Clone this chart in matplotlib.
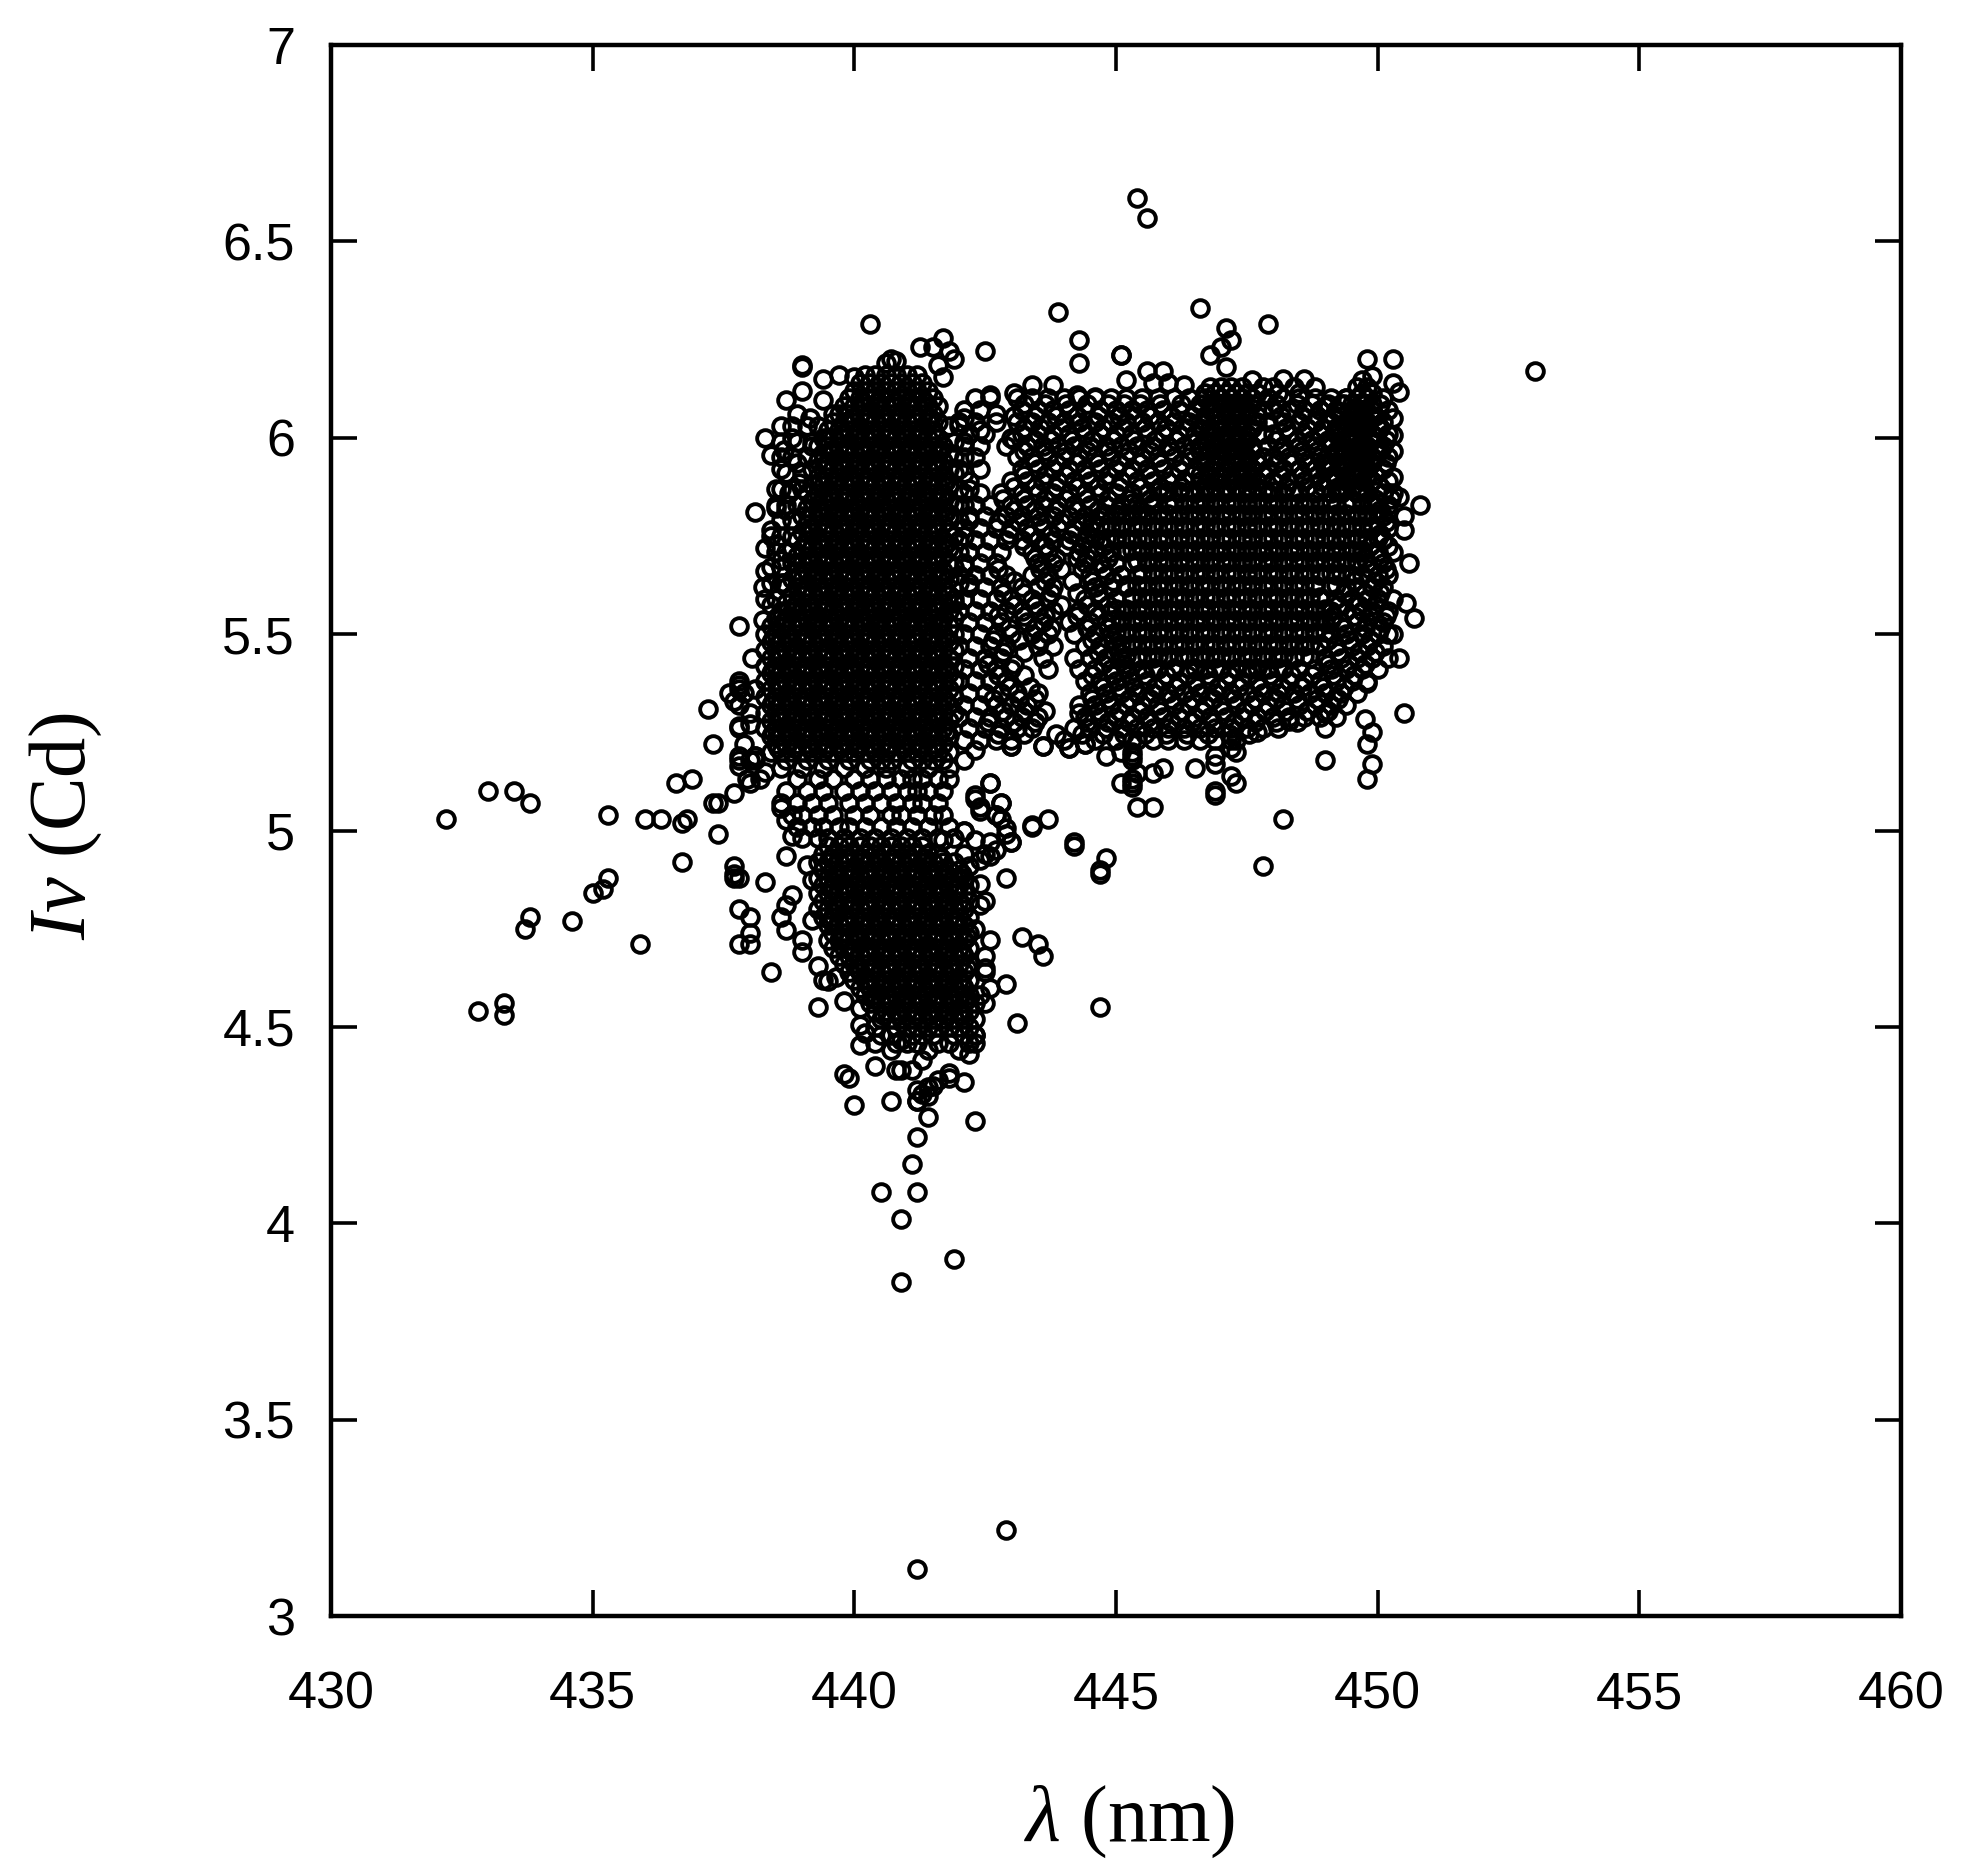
import matplotlib
matplotlib.use('Agg')
import matplotlib.pyplot as plt

plt.rcParams['font.family'] = ['Liberation Sans', 'DejaVu Sans']
plt.rcParams['mathtext.fontset'] = 'custom'
plt.rcParams['mathtext.rm'] = 'Liberation Serif'
plt.rcParams['mathtext.it'] = 'Liberation Serif:italic'

## isolated points, read one by one
lam_out = [432.2,432.8,433.0,433.3,433.3,433.5,433.7,433.8,433.8,434.6,435.0,435.2,435.3,435.3,435.9,436.0,436.3,436.6,436.7,436.7,436.8,436.9,437.2,437.3,437.3,437.4,437.4,437.7,437.7,437.7,437.8,437.8,437.8,438.0,438.0,438.0,438.4,438.3,437.8,437.8,437.8,438.1,
 440.3,443.9,444.3,444.3,445.1,442.5,445.4,445.6,446.6,447.9,453.0,447.1,447.2,447.0,446.8,449.8,450.3,450.8,450.7,450.6,450.5,450.4,
 449.0,449.9,449.8,448.2,447.8,447.3,447.2,446.9,446.9,445.7,445.4,445.1,445.3,445.3,445.3,444.7,444.8,444.7,444.7,444.2,444.2,443.7,443.4,443.2,443.5,443.6,443.1,442.9,442.5,
 442.9,442.6,442.3,442.4,442.8,442.8,442.7,442.1,442.9,443.0,
 441.2,442.9,440.9,441.9,440.9,440.5,441.2,441.1,441.2,441.4,442.3,441.2,440.7,440.0,439.8,439.9,440.4,442.1,441.3,441.5,441.8,440.8,439.3,439.4]
iv_out = [5.03,4.54,5.10,4.56,4.53,5.10,4.75,5.07,4.78,4.77,4.84,4.85,4.88,5.04,4.71,5.03,5.03,5.12,5.02,4.92,5.03,5.13,5.31,5.22,5.07,5.07,4.99,4.91,4.89,4.88,4.88,4.80,4.71,4.78,4.74,4.71,4.64,4.87,5.52,5.38,5.36,5.81,
 6.29,6.32,6.25,6.19,6.21,6.22,6.61,6.56,6.33,6.29,6.17,6.28,6.25,6.23,6.21,6.20,6.20,5.83,5.54,5.68,5.30,5.44,
 5.18,5.17,5.13,5.03,4.91,5.12,5.14,5.10,5.09,5.06,5.06,5.12,5.12,5.13,5.11,4.55,4.93,4.90,4.89,4.97,4.96,5.03,5.01,4.73,4.71,4.68,4.51,4.61,4.64,
 4.88,5.12,5.08,5.05,5.07,5.03,5.04,5.00,4.99,4.97,
 3.12,3.22,3.85,3.91,4.01,4.08,4.08,4.15,4.22,4.27,4.26,4.31,4.31,4.30,4.38,4.37,4.40,4.36,4.33,4.35,4.37,4.39,4.55,4.62]

## edge of the clusters
lam_edge = [439.0,439.0,439.4,439.7,440.0,440.7,440.6,440.8,441.25,441.5,441.7,441.8,441.9,441.6,441.7,438.7,439.0,439.4,438.9,439.6,438.6,438.3,438.4,438.6,438.5,438.5,438.75,438.4,438.3,438.3,438.25,438.4,438.25,438.05,437.8,438.1,437.7,437.8,
 438.8,439.15,439.2,438.9,438.65,438.95,438.7,438.5,438.65,438.6,437.9,438.0,437.8,437.6,437.9,438.1,437.95,438.0,438.1,438.2,438.3,438.0,437.8,437.8,
 443.4,443.8,443.05,442.6,442.7,443.0,442.1,442.4,444.25,444.6,445.2,445.1,445.6,445.9,445.7,446.0,446.3,
 448.2,448.6,447.1,447.6,449.7,449.9,450.3,450.4,449.4,449.0,450.3,450.3,450.3,450.3,450.4,450.5,450.5,450.55,450.3,449.8,449.75,449.0,448.3,447.7,447.2,446.5,445.9,445.3,444.8,444.4,444.1,443.6,443.0,444.3,
 447.2,447.3,446.9,446.9,445.4,445.7,445.1,445.3,445.3,445.3,449.0,449.9,449.8,
 437.7,438.0,437.8,437.8,438.1,442.1,442.3,443.0,443.6,444.1,444.4,442.6,442.3,442.8,442.4,442.7,442.9,443.4,442.1,442.3,443.0,442.6,442.5,442.7,442.4,442.6,441.7,442.1,442.2,442.4,442.4,442.5,442.3,442.6,442.5,442.5,442.6,442.5,442.4,442.3,442.2,442.0,442.3,
 438.7,438.6,438.7,438.8,439.1,439.2,438.8,438.7,438.6,438.7,439.0,439.0,439.2,439.3,439.5,439.65,439.8,440.1,440.1,440.2,440.1,440.7,440.9,441.4,440.9,441.1,441.3,441.6,441.8,441.4,441.2,441.2,441.4]
iv_edge = [6.185,6.18,6.15,6.16,6.155,6.20,6.19,6.195,6.23,6.23,6.255,6.22,6.20,6.185,6.155,6.095,6.12,6.095,6.06,6.06,6.03,6.0,5.955,5.92,5.87,5.82,5.86,5.765,5.72,5.66,5.62,5.575,5.535,5.44,5.37,5.36,5.33,5.265,
 6.0,6.05,5.98,5.935,5.97,5.885,5.815,5.73,5.63,5.69,5.35,5.27,5.32,5.35,5.22,5.19,5.13,5.30,5.18,5.13,5.15,5.18,5.26,5.18,
 6.134,6.134,6.113,6.11,6.06,6.0,6.05,6.02,6.11,6.105,6.147,6.21,6.17,6.17,6.14,6.14,6.134,
 6.15,6.15,6.18,6.147,6.147,6.157,6.14,6.116,6.1,6.08,6.05,6.007,5.965,5.9,5.85,5.8,5.765,5.58,5.5,5.375,5.285,5.3,5.28,5.25,5.21,5.16,5.16,5.18,5.19,5.22,5.21,5.215,5.215,5.3,
 5.23,5.2,5.19,5.17,5.146,5.146,5.2,5.23,5.2,5.19,5.26,5.25,5.22,
 5.095,5.12,5.163,5.19,5.19,5.18,5.205,5.214,5.214,5.21,5.22,5.12,5.09,5.07,5.06,5.04,5.006,5.013,5.0,4.975,4.97,4.97,4.94,4.95,4.925,4.935,4.975,4.94,4.91,4.865,4.81,4.82,4.75,4.72,4.68,4.65,4.6,4.56,4.58,4.48,4.43,4.44,4.46,
 4.936,5.057,5.027,4.985,4.913,4.875,4.836,4.81,4.78,4.747,4.72,4.69,4.773,4.654,4.616,4.628,4.565,4.548,4.505,4.484,4.454,4.44,4.467,4.44,4.39,4.39,4.416,4.365,4.382,4.348,4.34,4.31,4.323]

## left, solid column : one list of wavelengths per intensity level
iv_main = [6.16,6.14,6.12,6.10,6.08,6.06,6.04,6.02,6.00,5.98,5.96,5.94,5.92,5.90,5.88,5.86,5.84,5.82,5.80,5.78,5.76,5.74,5.72,5.70,5.68,5.66,5.64,5.62,5.60,5.58,5.56,5.54,5.52,5.50,5.48,5.46,5.44,5.42,5.40,5.38,5.36,5.34,5.32,5.30,5.28,5.26,5.24,5.22,5.20,5.18,5.16]
lam_main = [
 [440.2,440.4,440.6,440.8,441.0,441.2],
 [440.1,440.3,440.5,440.7,440.9,441.1,441.3],
 [440.0,440.2,440.4,440.6,440.8,441.0,441.2,441.4],
 [439.9,440.1,440.3,440.5,440.7,440.9,441.1,441.3,441.5],
 [439.8,440.0,440.2,440.4,440.6,440.8,441.0,441.2,441.4,441.6],
 [439.7,439.9,440.1,440.3,440.5,440.7,440.9,441.1,441.3,441.5],
 [439.6,439.8,440.0,440.2,440.4,440.6,440.8,441.0,441.2,441.4,441.6],
 [439.5,439.7,439.9,440.1,440.3,440.5,440.7,440.9,441.1,441.3,441.5],
 [439.4,439.6,439.8,440.0,440.2,440.4,440.6,440.8,441.0,441.2,441.4,441.6],
 [439.3,439.5,439.7,439.9,440.1,440.3,440.5,440.7,440.9,441.1,441.3,441.5,441.7],
 [439.4,439.6,439.8,440.0,440.2,440.4,440.6,440.8,441.0,441.2,441.4,441.6,441.8],
 [439.3,439.5,439.7,439.9,440.1,440.3,440.5,440.7,440.9,441.1,441.3,441.5,441.7],
 [439.2,439.4,439.6,439.8,440.0,440.2,440.4,440.6,440.8,441.0,441.2,441.4,441.6,441.8],
 [439.3,439.5,439.7,439.9,440.1,440.3,440.5,440.7,440.9,441.1,441.3,441.5,441.7],
 [439.2,439.4,439.6,439.8,440.0,440.2,440.4,440.6,440.8,441.0,441.2,441.4,441.6,441.8],
 [439.1,439.3,439.5,439.7,439.9,440.1,440.3,440.5,440.7,440.9,441.1,441.3,441.5,441.7],
 [439.2,439.4,439.6,439.8,440.0,440.2,440.4,440.6,440.8,441.0,441.2,441.4,441.6,441.8],
 [439.1,439.3,439.5,439.7,439.9,440.1,440.3,440.5,440.7,440.9,441.1,441.3,441.5,441.7],
 [439.0,439.2,439.4,439.6,439.8,440.0,440.2,440.4,440.6,440.8,441.0,441.2,441.4,441.6,441.8],
 [439.1,439.3,439.5,439.7,439.9,440.1,440.3,440.5,440.7,440.9,441.1,441.3,441.5,441.7],
 [439.0,439.2,439.4,439.6,439.8,440.0,440.2,440.4,440.6,440.8,441.0,441.2,441.4,441.6,441.8],
 [438.9,439.1,439.3,439.5,439.7,439.9,440.1,440.3,440.5,440.7,440.9,441.1,441.3,441.5,441.7],
 [439.0,439.2,439.4,439.6,439.8,440.0,440.2,440.4,440.6,440.8,441.0,441.2,441.4,441.6,441.8],
 [438.9,439.1,439.3,439.5,439.7,439.9,440.1,440.3,440.5,440.7,440.9,441.1,441.3,441.5,441.7],
 [438.8,439.0,439.2,439.4,439.6,439.8,440.0,440.2,440.4,440.6,440.8,441.0,441.2,441.4,441.6,441.8],
 [438.9,439.1,439.3,439.5,439.7,439.9,440.1,440.3,440.5,440.7,440.9,441.1,441.3,441.5,441.7],
 [438.8,439.0,439.2,439.4,439.6,439.8,440.0,440.2,440.4,440.6,440.8,441.0,441.2,441.4,441.6,441.8],
 [438.7,438.9,439.1,439.3,439.5,439.7,439.9,440.1,440.3,440.5,440.7,440.9,441.1,441.3,441.5,441.7],
 [438.8,439.0,439.2,439.4,439.6,439.8,440.0,440.2,440.4,440.6,440.8,441.0,441.2,441.4,441.6,441.8],
 [438.7,438.9,439.1,439.3,439.5,439.7,439.9,440.1,440.3,440.5,440.7,440.9,441.1,441.3,441.5,441.7,441.9],
 [438.6,438.8,439.0,439.2,439.4,439.6,439.8,440.0,440.2,440.4,440.6,440.8,441.0,441.2,441.4,441.6,441.8],
 [438.5,438.7,438.9,439.1,439.3,439.5,439.7,439.9,440.1,440.3,440.5,440.7,440.9,441.1,441.3,441.5,441.7,441.9],
 [438.4,438.6,438.8,439.0,439.2,439.4,439.6,439.8,440.0,440.2,440.4,440.6,440.8,441.0,441.2,441.4,441.6,441.8],
 [438.3,438.5,438.7,438.9,439.1,439.3,439.5,439.7,439.9,440.1,440.3,440.5,440.7,440.9,441.1,441.3,441.5,441.7,441.9],
 [438.4,438.6,438.8,439.0,439.2,439.4,439.6,439.8,440.0,440.2,440.4,440.6,440.8,441.0,441.2,441.4,441.6,441.8],
 [438.3,438.5,438.7,438.9,439.1,439.3,439.5,439.7,439.9,440.1,440.3,440.5,440.7,440.9,441.1,441.3,441.5,441.7,441.9],
 [438.4,438.6,438.8,439.0,439.2,439.4,439.6,439.8,440.0,440.2,440.4,440.6,440.8,441.0,441.2,441.4,441.6,441.8],
 [438.3,438.5,438.7,438.9,439.1,439.3,439.5,439.7,439.9,440.1,440.3,440.5,440.7,440.9,441.1,441.3,441.5,441.7,441.9],
 [438.4,438.6,438.8,439.0,439.2,439.4,439.6,439.8,440.0,440.2,440.4,440.6,440.8,441.0,441.2,441.4,441.6,441.8],
 [438.3,438.5,438.7,438.9,439.1,439.3,439.5,439.7,439.9,440.1,440.3,440.5,440.7,440.9,441.1,441.3,441.5,441.7,441.9],
 [438.4,438.6,438.8,439.0,439.2,439.4,439.6,439.8,440.0,440.2,440.4,440.6,440.8,441.0,441.2,441.4,441.6,441.8],
 [438.3,438.5,438.7,438.9,439.1,439.3,439.5,439.7,439.9,440.1,440.3,440.5,440.7,440.9,441.1,441.3,441.5,441.7,441.9],
 [438.4,438.6,438.8,439.0,439.2,439.4,439.6,439.8,440.0,440.2,440.4,440.6,440.8,441.0,441.2,441.4,441.6,441.8],
 [438.3,438.5,438.7,438.9,439.1,439.3,439.5,439.7,439.9,440.1,440.3,440.5,440.7,440.9,441.1,441.3,441.5,441.7,441.9],
 [438.4,438.6,438.8,439.0,439.2,439.4,439.6,439.8,440.0,440.2,440.4,440.6,440.8,441.0,441.2,441.4,441.6,441.8],
 [438.3,438.5,438.7,438.9,439.1,439.3,439.5,439.7,439.9,440.1,440.3,440.5,440.7,440.9,441.1,441.3,441.5,441.7],
 [438.4,438.6,438.8,439.0,439.2,439.4,439.6,439.8,440.0,440.2,440.4,440.6,440.8,441.0,441.2,441.4,441.6,441.8],
 [438.5,438.7,438.9,439.1,439.3,439.5,439.7,439.9,440.1,440.3,440.5,440.7,440.9,441.1,441.3,441.5,441.7],
 [438.4,438.6,438.8,439.0,439.2,439.4,439.6,439.8,440.0,440.2,440.4,440.6,440.8,441.0,441.2,441.4,441.6,441.8],
 [438.7,439.1,439.5,439.9,440.3,440.5,440.7,441.1,441.3,441.5,441.7],
 [438.6,439.0,439.4,439.8,440.2,440.6,441.0,441.4,441.8],
]

## same column, extra rings that close the last gaps
iv_plug = [6.09,6.05,6.01,5.97,5.93,5.89,5.85,5.81,5.77,5.73,5.69,5.65,5.61,5.57,5.53,5.49,5.45,5.41,5.37,5.33,5.29,5.25,5.21]
lam_plug = [
 [440.15,440.45,440.75,441.05,441.35],
 [439.95,440.25,440.55,440.85,441.15,441.45],
 [439.75,440.05,440.35,440.65,440.95,441.25,441.55],
 [439.55,439.85,440.15,440.45,440.75,441.05,441.35,441.65],
 [439.45,439.75,440.05,440.35,440.65,440.95,441.25,441.55],
 [439.35,439.65,439.95,440.25,440.55,440.85,441.15,441.45,441.75],
 [439.25,439.55,439.85,440.15,440.45,440.75,441.05,441.35,441.65],
 [439.35,439.65,439.95,440.25,440.55,440.85,441.15,441.45,441.75],
 [439.15,439.45,439.75,440.05,440.35,440.65,440.95,441.25,441.55],
 [439.05,439.35,439.65,439.95,440.25,440.55,440.85,441.15,441.45,441.75],
 [439.15,439.45,439.75,440.05,440.35,440.65,440.95,441.25,441.55],
 [438.95,439.25,439.55,439.85,440.15,440.45,440.75,441.05,441.35,441.65],
 [439.05,439.35,439.65,439.95,440.25,440.55,440.85,441.15,441.45,441.75],
 [438.85,439.15,439.45,439.75,440.05,440.35,440.65,440.95,441.25,441.55],
 [438.65,438.95,439.25,439.55,439.85,440.15,440.45,440.75,441.05,441.35,441.65],
 [438.45,438.75,439.05,439.35,439.65,439.95,440.25,440.55,440.85,441.15,441.45,441.75],
 [438.55,438.85,439.15,439.45,439.75,440.05,440.35,440.65,440.95,441.25,441.55],
 [438.45,438.75,439.05,439.35,439.65,439.95,440.25,440.55,440.85,441.15,441.45,441.75],
 [438.55,438.85,439.15,439.45,439.75,440.05,440.35,440.65,440.95,441.25,441.55],
 [438.45,438.75,439.05,439.35,439.65,439.95,440.25,440.55,440.85,441.15,441.45,441.75],
 [438.55,438.85,439.15,439.45,439.75,440.05,440.35,440.65,440.95,441.25,441.55],
 [438.45,438.75,439.05,439.35,439.65,439.95,440.25,440.55,440.85,441.15,441.45,441.75],
 [438.55,438.85,439.15,439.45,439.75,440.05,440.35,440.65,440.95,441.25,441.55],
]

## left fringe of the column, and just right of it
iv_fringe = [6.03,5.99,5.95,5.91,5.87,5.83,5.79,5.75,5.71,5.67,5.63,5.59]
lam_fringe = [
 [438.8,439.1,439.3,441.8,442.0],
 [438.6,438.9,439.2,441.9,442.1],
 [438.6,438.8,439.1,441.9,442.1],
 [438.7,439.0,441.9,442.1],
 [438.6,438.8,439.0,442.0,442.2],
 [438.5,438.7,438.9,441.9,442.1],
 [438.6,438.8,442.0,442.2],
 [438.4,438.6,438.8,441.9,442.1],
 [438.5,438.7,442.0,442.2],
 [438.4,438.6,441.9,442.1],
 [438.4,438.6,442.0,442.2],
 [438.3,438.5,441.9,442.1],
]

## between the two left blobs, open rings
iv_mid = [5.13,5.10,5.07,5.04,5.01,4.98]
lam_mid = [
 [438.9,439.3,439.6,440.0,440.3,440.6,440.9,441.1,441.3,441.6,441.8],
 [438.7,439.1,439.4,439.8,440.1,440.4,440.7,441.0,441.2,441.4,441.7],
 [438.6,438.9,439.2,439.5,439.9,440.2,440.5,440.8,441.1,441.3,441.6],
 [438.8,439.0,439.3,439.6,440.0,440.3,440.7,440.9,441.2,441.5,441.7],
 [438.9,439.2,439.4,439.7,439.9,440.2,440.5,440.8,441.1,441.4,441.8],
 [439.0,439.3,439.5,439.8,440.1,440.4,440.7,441.0,441.3,441.6,441.9],
]

## lower blob
iv_low = [4.96,4.94,4.92,4.90,4.88,4.86,4.84,4.82,4.80,4.78,4.76,4.74,4.72,4.70,4.68,4.66,4.64,4.62,4.60,4.58,4.56,4.54,4.52,4.50,4.48,4.46]
lam_low = [
 [439.5,439.7,439.9,440.1,440.3,440.5,440.7,440.9,441.1,441.3],
 [439.4,439.6,439.8,440.0,440.2,440.4,440.6,440.8,441.0,441.2,441.4,441.6],
 [439.3,439.5,439.7,439.9,440.1,440.3,440.5,440.7,440.9,441.1,441.3,441.5,441.7,441.9],
 [439.4,439.6,439.8,440.0,440.2,440.4,440.6,440.8,441.0,441.2,441.4,441.6,441.8,442.0],
 [439.3,439.5,439.7,439.9,440.1,440.3,440.5,440.7,440.9,441.1,441.3,441.5,441.7,441.9,442.1],
 [439.4,439.6,439.8,440.0,440.2,440.4,440.6,440.8,441.0,441.2,441.4,441.6,441.8,442.0,442.2],
 [439.3,439.5,439.7,439.9,440.1,440.3,440.5,440.7,440.9,441.1,441.3,441.5,441.7,441.9,442.1],
 [439.4,439.6,439.8,440.0,440.2,440.4,440.6,440.8,441.0,441.2,441.4,441.6,441.8,442.0,442.2],
 [439.3,439.5,439.7,439.9,440.1,440.3,440.5,440.7,440.9,441.1,441.3,441.5,441.7,441.9,442.1],
 [439.4,439.6,439.8,440.0,440.2,440.4,440.6,440.8,441.0,441.2,441.4,441.6,441.8,442.0,442.2],
 [439.5,439.7,439.9,440.1,440.3,440.5,440.7,440.9,441.1,441.3,441.5,441.7,441.9,442.1],
 [439.6,439.8,440.0,440.2,440.4,440.6,440.8,441.0,441.2,441.4,441.6,441.8,442.0,442.2],
 [439.5,439.7,439.9,440.1,440.3,440.5,440.7,440.9,441.1,441.3,441.5,441.7,441.9,442.1],
 [439.6,439.8,440.0,440.2,440.4,440.6,440.8,441.0,441.2,441.4,441.6,441.8,442.0,442.2],
 [439.7,439.9,440.1,440.3,440.5,440.7,440.9,441.1,441.3,441.5,441.7,441.9,442.1],
 [439.8,440.0,440.2,440.4,440.6,440.8,441.0,441.2,441.4,441.6,441.8,442.0,442.2],
 [439.9,440.1,440.3,440.5,440.7,440.9,441.1,441.3,441.5,441.7,441.9,442.1],
 [440.0,440.2,440.4,440.6,440.8,441.0,441.2,441.4,441.6,441.8,442.0,442.2],
 [440.1,440.3,440.5,440.7,440.9,441.1,441.3,441.5,441.7,441.9,442.1],
 [440.2,440.4,440.6,440.8,441.0,441.2,441.4,441.6,441.8,442.0,442.2],
 [440.3,440.5,440.7,440.9,441.1,441.3,441.5,441.7,441.9,442.1,442.3],
 [440.4,440.6,440.8,441.0,441.2,441.4,441.6,441.8,442.0,442.2],
 [440.5,440.7,440.9,441.1,441.3,441.5,441.7,441.9,442.1,442.3],
 [440.4,440.8,441.0,441.2,441.4,441.6,441.8,442.0,442.2],
 [440.5,440.7,441.1,441.3,441.5,441.9,442.1,442.3],
 [440.4,440.8,441.0,441.2,441.6,441.8,442.2],
]
iv_lowplug = [4.93,4.89,4.85,4.81,4.77,4.73,4.69,4.65,4.61,4.57,4.53]
lam_lowplug = [
 [439.55,439.85,440.15,440.45,440.75,441.05,441.35,441.65],
 [439.65,439.95,440.25,440.55,440.85,441.15,441.45,441.75,442.05],
 [439.55,439.85,440.15,440.45,440.75,441.05,441.35,441.65,441.95],
 [439.65,439.95,440.25,440.55,440.85,441.15,441.45,441.75,442.05],
 [439.55,439.85,440.15,440.45,440.75,441.05,441.35,441.65,441.95],
 [439.75,440.05,440.35,440.65,440.95,441.25,441.55,441.85,442.15],
 [439.95,440.25,440.55,440.85,441.15,441.45,441.75,442.05],
 [440.05,440.35,440.65,440.95,441.25,441.55,441.85,442.15],
 [440.25,440.55,440.85,441.15,441.45,441.75,442.05],
 [440.35,440.65,440.95,441.25,441.55,441.85,442.15],
 [440.55,440.85,441.15,441.45,441.75,442.05],
]

## right cluster, open rows over the whole width
iv_right = [6.10,6.07,6.04,6.01,5.98,5.95,5.92,5.89,5.86,5.83,5.80,5.77,5.74,5.71,5.68,5.65,5.62,5.59,5.56,5.53,5.50,5.47,5.44,5.41,5.38,5.35,5.32,5.29,5.26,5.23]
lam_right = [
 [442.3,442.6,443.1,443.4,443.7,444.0,444.3,444.6,444.9,445.2,445.5,445.8,446.1,446.4,446.7,447.0,447.2,447.4,447.6,447.9,448.2,448.5,448.8,449.1,449.4,449.6,449.8,450.1],
 [442.1,442.4,443.2,443.5,443.8,444.1,444.4,444.7,445.0,445.3,445.6,445.9,446.2,446.5,446.8,447.1,447.3,447.5,447.8,448.0,448.3,448.6,448.9,449.2,449.5,449.7,449.9,450.2],
 [442.0,442.3,442.7,443.1,443.4,443.7,444.0,444.3,444.6,444.9,445.2,445.5,445.8,446.1,446.4,446.7,447.0,447.2,447.4,447.7,447.9,448.2,448.5,448.8,449.1,449.4,449.6,449.8,450.1],
 [442.2,442.5,443.2,443.5,443.8,444.1,444.4,444.7,445.0,445.3,445.6,445.9,446.2,446.5,446.8,447.1,447.3,447.5,447.8,448.0,448.3,448.6,448.9,449.2,449.5,449.7,449.9,450.2],
 [442.1,442.4,442.9,443.3,443.6,443.9,444.2,444.5,444.8,445.1,445.4,445.7,446.0,446.3,446.6,446.9,447.2,447.4,447.6,447.9,448.2,448.5,448.8,449.1,449.3,449.6,449.8,450.1],
 [442.3,443.1,443.4,443.7,444.0,444.3,444.6,444.9,445.2,445.5,445.8,446.1,446.4,446.7,447.0,447.3,447.5,447.8,448.0,448.3,448.6,448.9,449.2,449.5,449.7,449.9,450.2],
 [442.0,442.4,443.2,443.5,443.8,444.1,444.4,444.7,445.0,445.3,445.6,445.9,446.2,446.5,446.8,447.1,447.4,447.6,447.9,448.2,448.5,448.8,449.0,449.3,449.6,449.8,450.1],
 [442.2,443.0,443.3,443.6,443.9,444.2,444.5,444.8,445.1,445.4,445.7,446.0,446.3,446.6,446.9,447.2,447.5,447.7,448.0,448.3,448.6,448.9,449.2,449.4,449.7,449.9,450.2],
 [442.1,442.4,442.8,443.2,443.5,443.8,444.1,444.4,444.7,445.0,445.3,445.6,445.9,446.2,446.5,446.8,447.1,447.4,447.6,447.9,448.2,448.5,448.8,449.1,449.3,449.6,449.8,450.1,450.3],
 [442.0,442.3,442.6,443.0,443.3,443.6,443.9,444.2,444.5,444.8,445.1,445.4,445.7,446.0,446.3,446.6,446.9,447.2,447.5,447.7,448.0,448.3,448.6,448.9,449.2,449.4,449.7,449.9,450.2],
 [442.2,442.5,442.9,443.2,443.5,443.8,444.1,444.4,444.7,445.0,445.3,445.6,445.9,446.2,446.5,446.8,447.1,447.4,447.6,447.9,448.2,448.5,448.8,449.1,449.3,449.6,449.8,450.1],
 [442.1,442.4,442.7,443.0,443.3,443.6,443.9,444.2,444.5,444.8,445.1,445.4,445.7,446.0,446.3,446.6,446.9,447.2,447.5,447.7,448.0,448.3,448.6,448.9,449.2,449.4,449.7,449.9,450.2],
 [442.0,442.3,442.6,442.9,443.2,443.5,443.8,444.1,444.4,444.7,445.0,445.3,445.6,445.9,446.2,446.5,446.8,447.1,447.4,447.6,447.9,448.2,448.5,448.8,449.1,449.3,449.6,449.8,450.1],
 [442.2,442.5,442.8,443.4,443.7,444.3,444.6,444.9,445.2,445.5,445.8,446.1,446.4,446.7,447.0,447.3,447.5,447.8,448.1,448.4,448.7,449.0,449.2,449.5,449.7,450.0,450.3],
 [442.1,442.4,442.7,443.5,443.8,444.4,444.7,445.0,445.3,445.6,445.9,446.2,446.5,446.8,447.1,447.4,447.6,447.9,448.2,448.5,448.8,449.1,449.3,449.6,449.8,450.1],
 [442.0,442.3,442.6,442.9,443.4,443.7,444.5,444.8,445.1,445.4,445.7,446.0,446.3,446.6,446.9,447.2,447.5,447.7,448.0,448.3,448.6,448.9,449.2,449.5,449.7,450.0,450.2],
 [442.2,442.5,442.8,443.2,443.5,443.8,444.6,444.9,445.2,445.5,445.8,446.1,446.4,446.7,447.0,447.3,447.6,447.9,448.2,448.5,448.8,449.1,449.4,449.6,449.9,450.1],
 [442.1,442.4,442.7,443.0,443.4,443.7,444.4,444.7,445.0,445.3,445.6,445.9,446.2,446.5,446.8,447.1,447.4,447.7,448.0,448.3,448.6,448.9,449.2,449.5,449.8,450.0,450.3],
 [442.0,442.3,442.6,442.9,443.2,443.5,443.8,444.3,444.6,444.9,445.2,445.5,445.8,446.1,446.4,446.7,447.0,447.3,447.6,447.9,448.2,448.5,448.8,449.1,449.4,449.7,449.9,450.2],
 [442.2,442.5,442.8,443.3,443.6,444.1,444.5,444.8,445.1,445.4,445.7,446.0,446.3,446.6,446.9,447.2,447.5,447.8,448.1,448.4,448.7,449.0,449.3,449.6,449.8,450.1],
 [442.1,442.4,442.7,443.0,443.4,443.7,444.2,444.6,444.9,445.2,445.5,445.8,446.1,446.4,446.7,447.0,447.3,447.6,447.9,448.2,448.5,448.8,449.1,449.4,449.7,450.0,450.2],
 [442.0,442.3,442.6,442.9,443.5,443.8,444.4,444.7,445.0,445.3,445.6,445.9,446.2,446.5,446.8,447.1,447.4,447.7,448.0,448.3,448.6,448.9,449.2,449.5,449.8,450.1],
 [442.2,442.5,442.8,443.6,444.2,444.5,444.8,445.1,445.4,445.7,446.0,446.3,446.6,446.9,447.2,447.5,447.8,448.1,448.4,448.7,449.0,449.3,449.6,449.9,450.2],
 [442.1,442.4,442.7,443.0,443.7,444.3,444.6,444.9,445.2,445.5,445.8,446.1,446.4,446.7,447.0,447.3,447.6,447.9,448.2,448.5,448.8,449.1,449.4,449.7,450.0],
 [442.0,442.3,442.6,442.9,444.4,444.7,445.0,445.3,445.6,445.9,446.2,446.5,446.8,447.1,447.4,447.7,448.0,448.3,448.6,448.9,449.2,449.5,449.8],
 [442.2,442.5,442.8,443.1,443.5,444.5,444.8,445.1,445.4,445.7,446.0,446.3,446.6,446.9,447.2,447.5,447.8,448.1,448.4,448.7,449.0,449.3,449.6],
 [442.1,442.4,442.7,443.0,443.3,444.3,444.6,444.9,445.2,445.5,445.8,446.1,446.4,446.7,447.0,447.3,447.6,447.9,448.2,448.5,448.8,449.1,449.4],
 [442.0,442.3,442.6,442.9,443.2,443.5,444.4,444.7,445.0,445.3,445.6,445.9,446.2,446.5,446.8,447.1,447.4,447.7,448.0,448.3,448.6,448.9,449.2],
 [442.2,442.5,442.8,443.1,443.4,444.2,444.5,444.8,445.1,445.4,445.7,446.0,446.3,446.6,446.9,447.2,447.5,447.8,448.1],
 [442.1,442.4,442.7,443.0,444.0,444.6,445.0,445.4,445.7,446.0,446.3,446.6,446.9,447.3],
]

## right cluster, rows between the rows above where it is crowded
iv_fill = [6.085,6.055,6.025,5.995,5.965,5.935,5.905,5.875,5.845,5.815,5.785,5.755,5.725,5.695,5.665,5.635,5.605,5.575,5.545,5.515,5.485,5.455,5.425,5.395,5.365,5.335,5.305,5.275,5.245]
lam_fill = [
 [443.25,443.65,444.05,444.45,444.85,445.15,445.45,445.85,446.25,448.05,448.45,448.75,449.05,449.35,449.75,450.05],
 [443.05,443.45,443.85,444.25,444.65,445.05,445.35,445.65,446.05,446.45,448.15,448.55,448.85,449.15,449.55,449.95],
 [443.25,443.55,443.95,444.35,444.75,445.15,445.55,445.95,446.35,448.25,448.65,448.95,449.25,449.65,450.05],
 [443.05,443.45,443.75,444.15,444.55,444.95,445.35,445.75,446.15,446.55,448.05,448.45,448.75,449.05,449.45,449.85,450.15],
 [443.25,443.65,444.05,444.45,444.85,445.25,445.65,446.05,446.45,448.15,448.55,448.85,449.25,449.65,450.05],
 [443.45,443.85,444.25,444.65,445.05,445.45,445.85,446.25,448.05,448.35,448.65,448.95,449.35,449.75,450.15],
 [443.25,443.65,444.05,444.45,444.85,445.25,445.65,446.05,446.45,448.15,448.55,448.85,449.15,449.55,449.95],
 [443.05,443.45,443.85,444.25,444.65,445.05,445.45,445.85,446.25,448.25,448.65,448.95,449.25,449.65,450.05],
 [442.85,443.25,443.65,444.05,444.45,444.85,445.25,445.65,449.95,450.25],
 [443.05,443.45,443.85,444.25,444.65,445.05,445.45,450.05,450.2],
 [442.75,443.15,443.55,443.95,444.35,444.55,450.15],
 [442.95,443.35,443.75,444.15,444.45,450.05],
 [443.25,443.65,444.05,444.35,444.75,449.85,450.2],
 [443.45,443.85,444.25,444.45,444.85,449.75,450.05],
 [442.75,443.55,443.95,444.35,444.75,449.85,450.15],
 [443.05,443.65,444.15,444.55,444.95,449.55,449.95],
 [442.85,443.25,443.75,444.25,444.65,449.35,449.75,450.05],
 [443.05,443.45,443.95,444.45,444.85,449.25,449.65,449.95],
 [442.75,443.25,443.65,444.25,444.65,449.15,449.55,449.85,450.15],
 [442.95,443.45,443.75,444.45,444.85,449.35,449.75,450.05],
 [442.65,443.15,443.55,444.55,444.95,449.05,449.45,449.85],
 [442.85,443.25,444.65,445.05,449.25,449.65,449.95],
 [442.55,443.05,444.75,445.15,449.05,449.45,449.75],
 [442.75,443.25,444.55,444.95,445.25,445.55,445.95,446.35,446.75,447.15,447.55,447.95,448.35,448.75,449.15,449.55],
 [442.95,443.35,444.75,445.05,445.35,445.75,446.15,446.55,446.95,447.35,447.75,448.15,448.55,448.95,449.35],
 [442.65,443.15,443.45,444.55,444.85,445.25,445.65,446.05,446.45,446.85,447.25,447.65,448.05,448.45,448.85,449.25],
 [442.85,443.25,443.65,444.65,445.05,445.45,445.85,446.25,446.65,447.05,447.45,447.85,448.25,448.65,449.05],
 [442.55,443.05,443.45,444.45,444.85,445.25,445.65,446.05,446.45,446.85,447.25,447.65,448.05,448.45],
 [442.75,443.25,443.85,444.35,444.75,445.15,445.55,445.95,446.35,446.75,447.15,447.55],
]

## right cluster, the part that prints solid
iv_core = [5.865,5.835,5.805,5.775,5.745,5.715,5.685,5.655,5.625,5.595,5.565,5.535,5.505,5.475,5.445,5.415]
lam_core = [
 [445.8,446.0,446.2,446.4,446.6,446.8,447.0,447.2,447.4,447.6,447.8,448.0,448.4,448.8,449.2,449.6],
 [445.3,445.7,446.1,446.5,446.7,446.9,447.1,447.3,447.5,447.7,447.9,448.1,448.3,448.5,448.7,449.1,449.5,449.9],
 [444.8,445.0,445.2,445.4,445.6,445.8,446.0,446.2,446.4,446.6,446.8,447.0,447.2,447.4,447.6,447.8,448.0,448.2,448.4,448.6,448.8,449.0,449.2,449.4,449.6,449.8,450.0],
 [444.7,444.9,445.1,445.3,445.5,445.7,445.9,446.1,446.3,446.5,446.7,446.9,447.1,447.3,447.5,447.7,447.9,448.1,448.3,448.5,448.7,448.9,449.1,449.3,449.5,449.7,449.9],
 [444.6,444.8,445.0,445.2,445.4,445.6,445.8,446.0,446.2,446.4,446.6,446.8,447.0,447.2,447.4,447.6,447.8,448.0,448.2,448.4,448.6,448.8,449.0,449.2,449.4,449.6,449.8,450.0],
 [445.1,445.3,445.5,445.7,445.9,446.1,446.3,446.5,446.7,446.9,447.1,447.3,447.5,447.7,447.9,448.1,448.3,448.5,448.7,448.9,449.1,449.3,449.5,449.7],
 [445.4,445.6,445.8,446.0,446.2,446.4,446.6,446.8,447.0,447.2,447.4,447.6,447.8,448.0,448.2,448.4,448.6,448.8,449.0,449.2,449.4,449.6],
 [445.5,445.7,445.9,446.1,446.3,446.5,446.7,446.9,447.1,447.3,447.5,447.7,447.9,448.1,448.3,448.5,448.7,448.9,449.1,449.3],
 [445.2,445.4,445.6,445.8,446.0,446.2,446.4,446.6,446.8,447.0,447.2,447.4,447.6,447.8,448.0,448.2,448.4,448.6,448.8,449.2],
 [445.3,445.5,445.7,445.9,446.1,446.3,446.5,446.7,446.9,447.1,447.3,447.5,447.7,447.9,448.1,448.3,448.5,448.7,448.9],
 [445.0,445.2,445.4,445.6,445.8,446.0,446.2,446.4,446.6,446.8,447.0,447.2,447.4,447.6,447.8,448.0,448.2,448.4,448.6,448.8,449.0],
 [444.9,445.1,445.3,445.5,445.7,445.9,446.1,446.3,446.5,446.7,446.9,447.1,447.3,447.5,447.7,447.9,448.1,448.3,448.5,448.7,448.9,449.1],
 [445.0,445.2,445.4,445.6,445.8,446.0,446.2,446.4,446.6,446.8,447.0,447.2,447.4,447.6,447.8,448.0,448.2,448.4,448.6,448.8,449.0],
 [445.1,445.3,445.5,445.7,445.9,446.1,446.3,446.5,446.7,446.9,447.1,447.3,447.5,447.7,447.9,448.1,448.3,448.5,448.7,448.9],
 [445.2,445.4,445.6,445.8,446.0,446.2,446.4,446.6,446.8,447.0,447.2,447.4,447.6,447.8,448.0,448.2,448.4,448.6],
 [445.7,446.1,446.5,446.9,447.3,447.5,447.7,447.9,448.1],
]

## columns above the solid part
iv_top = [6.13,6.115,6.085,6.055,6.025,5.995,5.965,5.935,5.905,5.875]
lam_top = [
 [446.8,447.0,447.2,447.4,447.8,448.0,448.4,448.8,449.6,449.8],
 [446.7,446.9,447.1,447.3,447.5,447.7,448.1,448.5,449.7,449.9],
 [446.6,446.8,447.0,447.2,447.4,447.6,449.3,449.5,449.9],
 [446.7,446.9,447.1,447.3,447.5,447.7,449.3,449.5,449.7,449.9],
 [446.6,446.8,447.0,447.2,447.4,447.6,449.2,449.4,449.6,449.8,450.0],
 [446.7,446.9,447.1,447.3,447.5,449.1,449.3,449.5,449.7,449.9],
 [446.6,446.8,447.0,447.2,447.4,447.6,449.2,449.4,449.6,449.8,450.0],
 [446.7,446.9,447.1,447.3,447.5,447.7,449.1,449.3,449.5,449.7,449.9],
 [446.6,446.8,447.0,447.2,447.4,447.6,447.8,449.2,449.4,449.6,449.8],
 [446.7,446.9,447.1,447.3,447.5,447.7,449.3,449.5,449.7],
]

ticks_x = [430,435,440,445,450,455,460]
ticks_y = [3,3.5,4,4.5,5,5.5,6,6.5,7]
labels_y = ['3','3.5','4','4.5','5','5.5','6','6.5','7']

fig = plt.figure(figsize=(19.77,18.72), dpi=100)
ax = fig.add_axes([331/1977, 1-1616/1872, (1901-331)/1977, (1616-45)/1872])

def rings(l, i):
    ax.plot(l, i, 'o', mfc='none', mec='black', ms=12, mew=2.8, ls='none')

rings(lam_out, iv_out)
rings(lam_edge, iv_edge)
for iv_list, lam_list in [(iv_main,lam_main),(iv_plug,lam_plug),(iv_fringe,lam_fringe),(iv_mid,lam_mid),(iv_low,lam_low),(iv_lowplug,lam_lowplug),(iv_right,lam_right),(iv_fill,lam_fill),(iv_core,lam_core),(iv_top,lam_top)]:
    for a, row in zip(iv_list, lam_list):
        rings(row, [a]*len(row))

ax.set_xlim(430,460)
ax.set_ylim(3,7)
ax.set_xticks(ticks_x)
ax.set_yticks(ticks_y)
ax.set_yticklabels(labels_y)
ax.tick_params(direction='in', top=True, right=True, length=19, width=2.6, labelsize=37.5, pad=26)
ax.tick_params(axis='x', pad=39)
for s in ax.spines.values():
    s.set_linewidth(3.2)

fig.text(1130/1977, 1-1822/1872, r'$\lambda\ \mathrm{(nm)}$', fontsize=58, ha='center', va='center')
fig.text(66/1977, 1-826/1872, r'$Iv\ \mathrm{(Cd)}$', fontsize=58, rotation=90, ha='center', va='center')

fig.savefig('out.png', dpi=100)
